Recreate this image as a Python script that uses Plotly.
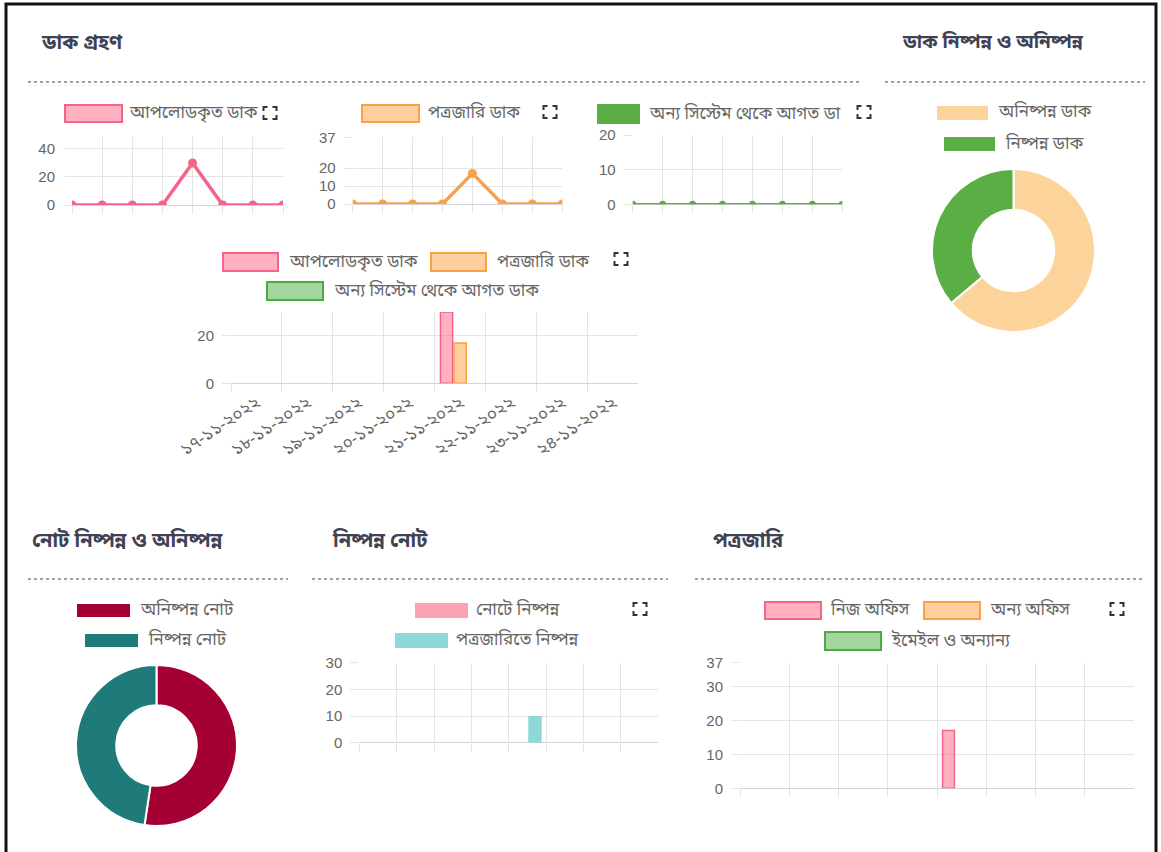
import plotly.graph_objects as go

# ---------------- data ----------------
dates = ["১৭-১১-২০২২", "১৮-১১-২০২২", "১৯-১১-২০২২", "২০-১১-২০২২",
         "২১-১১-২০২২", "২২-১১-২০২২", "২৩-১১-২০২২", "২৪-১১-২০২২"]

uploaded_dak = [0, 0, 0, 0, 30, 0, 0, 0]
issued_dak = [0, 0, 0, 0, 17, 0, 0, 0]
other_system_dak = [0, 0, 0, 0, 0, 0, 0, 0]

dak_status_labels = ["অনিষ্পন্ন ডাক", "নিষ্পন্ন ডাক"]
dak_status_values = [30, 17]

note_status_labels = ["অনিষ্পন্ন নোট", "নিষ্পন্ন নোট"]
note_status_values = [11, 10]

note_done_in_note = [0, 0, 0, 0, 0, 0, 0, 0]
note_done_in_potrojari = [0, 0, 0, 0, 10, 0, 0, 0]

potrojari_own_office = [0, 0, 0, 0, 17, 0, 0, 0]
potrojari_other_office = [0, 0, 0, 0, 0, 0, 0, 0]
potrojari_email_other = [0, 0, 0, 0, 0, 0, 0, 0]

# ---------------- styling ----------------
W, H = 1161, 852
BN_FONT = "Noto Sans Bengali, Noto Sans, DejaVu Sans, sans-serif"
NUM_FONT = "Liberation Sans, Arial, sans-serif"
TITLE_COLOR = "#3f4254"
TEXT_COLOR = "#666666"
GRID = "#e4e4e4"
LEGEND_SIZE = 17

PINK = "rgb(245,100,136)"
PINK_FILL = "rgba(255,99,132,0.5)"
ORANGE = "rgb(250,160,70)"
ORANGE_FILL = "rgba(255,159,64,0.5)"
GREEN = "rgb(90,174,68)"
GREEN_LINE = "rgb(76,170,70)"
GREEN_FILL = "rgba(90,180,80,0.55)"


def px(x):
    return x / W


def py(y):
    return 1 - y / H


fig = go.Figure()
shapes = []
annotations = []


def title(text, x, y, size=20):
    annotations.append(dict(text=f"<b>{text}</b>", x=px(x), y=py(y), xref="paper", yref="paper",
                            xanchor="left", yanchor="middle", showarrow=False,
                            font=dict(family=BN_FONT, size=size, color=TITLE_COLOR)))


def separator(x0, x1, y):
    shapes.append(dict(type="line", xref="paper", yref="paper", x0=px(x0), x1=px(x1),
                       y0=py(y), y1=py(y), line=dict(color="#444444", width=1, dash="dot")))
    shapes.append(dict(type="line", xref="paper", yref="paper", x0=px(x0), x1=px(x1),
                       y0=py(y + 3), y1=py(y + 3), line=dict(color="#ececec", width=1, dash="dot")))


def legend_item(x0, y0, w, h, fill, border, label, gap=7):
    shapes.append(dict(type="rect", xref="paper", yref="paper",
                       x0=px(x0), x1=px(x0 + w), y0=py(y0 + h), y1=py(y0),
                       fillcolor=fill, line=dict(color=border, width=2 if border else 0)))
    annotations.append(dict(text=label, x=px(x0 + w + gap), y=py(y0 + h / 2), xref="paper", yref="paper",
                            xanchor="left", yanchor="middle", showarrow=False,
                            font=dict(family=BN_FONT, size=LEGEND_SIZE, color=TEXT_COLOR)))


def expand_icon(cx, cy, w=13, h=12, a=4):
    x0, x1 = px(cx - w / 2), px(cx + w / 2)
    y0, y1 = py(cy - h / 2), py(cy + h / 2)
    ax, ay = a / W, a / H
    path = (f"M{x0},{y0 - ay} L{x0},{y0} L{x0 + ax},{y0} "
            f"M{x1 - ax},{y0} L{x1},{y0} L{x1},{y0 - ay} "
            f"M{x1},{y1 + ay} L{x1},{y1} L{x1 - ax},{y1} "
            f"M{x0 + ax},{y1} L{x0},{y1} L{x0},{y1 + ay}")
    shapes.append(dict(type="path", xref="paper", yref="paper", path=path,
                       line=dict(color="#333333", width=2)))


def xdom(x0, x1):
    return [px(x0), px(x1)]


def ydom(top, bottom):
    return [py(bottom), py(top)]


def x_axis(dom, anchor, showlabels=False, boundaries=False, rng=None):
    ax = dict(domain=dom, anchor=anchor, type="category", showgrid=True, gridcolor=GRID,
              gridwidth=1, ticks="outside", ticklen=8, tickcolor=GRID, showline=False,
              zeroline=False, showticklabels=showlabels, fixedrange=True, automargin=False,
              tickfont=dict(family=BN_FONT, size=17, color=TEXT_COLOR))
    if boundaries:
        ax["tickson"] = "boundaries"
    if rng is not None:
        ax["range"] = rng
    return ax


def y_axis(dom, anchor, rng, tickvals):
    return dict(domain=dom, anchor=anchor, range=rng, tickvals=tickvals, showgrid=True,
                gridcolor=GRID, ticks="outside", ticklen=8, tickcolor=GRID, zeroline=True,
                zerolinecolor="#d4d4d4", zerolinewidth=1, showline=False, fixedrange=True,
                automargin=False, ticklabelstandoff=5,
                tickfont=dict(family=NUM_FONT, size=15, color=TEXT_COLOR))


def bar_outline(vals, color):
    # zero-height bars get no outline so they stay invisible
    return dict(color=color, width=[1.5 if v else 0 for v in vals])


# ---------------- outer frame ----------------
shapes.append(dict(type="rect", xref="paper", yref="paper", x0=px(6), x1=px(1156), y0=py(880), y1=py(4),
                   line=dict(color="#111111", width=3), fillcolor="rgba(0,0,0,0)"))

# ---------------- headings ----------------
title("ডাক গ্রহণ", 39, 44)
title("ডাক নিষ্পন্ন ও অনিষ্পন্ন", 900, 44, size=19)
title("নোট নিষ্পন্ন ও অনিষ্পন্ন", 30, 541)
title("নিষ্পন্ন নোট", 330, 541)
title("পত্রজারি", 711, 541)

separator(28, 860, 82)
separator(885, 1145, 82)
separator(28, 288, 579)
separator(312, 668, 579)
separator(695, 1145, 579)

# ---------------- small line charts ----------------
line_specs = [
    ("x", "y", uploaded_dak, "আপলোডকৃত ডাক", PINK, 3.5, 9, (72, 283), (137, 205), [0, 48.5], [0, 20, 40]),
    ("x2", "y2", issued_dak, "পত্রজারি ডাক", ORANGE, 3.5, 9, (352.7, 562.3), (137.4, 204), [0, 37], [0, 10, 20, 37]),
    ("x3", "y3", other_system_dak, "অন্য সিস্টেম থেকে আগত ডাক", GREEN, 2.5, 7, (632.7, 842.3), (135, 204.3), [0, 20], [0, 10, 20]),
]
layout_axes = {}
for i, (xa, ya, vals, name, color, lw, ms, xr, yr, rng, tv) in enumerate(line_specs, start=1):
    fig.add_trace(go.Scatter(x=dates, y=vals, xaxis=xa, yaxis=ya, mode="lines+markers", name=name,
                             line=dict(color=color, width=lw), marker=dict(color=color, size=ms),
                             showlegend=False, hoverinfo="x+y"))
    sfx = "" if i == 1 else str(i)
    layout_axes[f"xaxis{sfx}"] = x_axis(xdom(*xr), ya, rng=[0, 7])
    layout_axes[f"yaxis{sfx}"] = y_axis(ydom(*yr), xa, rng, tv)

legend_item(65, 105, 57, 17, PINK_FILL, PINK, "আপলোডকৃত ডাক", gap=5)
expand_icon(270, 113)
legend_item(362, 105, 57, 17, ORANGE_FILL, ORANGE, "পত্রজারি ডাক", gap=7)
expand_icon(550, 112)
legend_item(597, 104, 43, 20, GREEN, None, "অন্য সিস্টেম থেকে আগত ডা", gap=7)
expand_icon(864, 112)

# ---------------- grouped bar chart (dak) ----------------
for vals, name, fill, border in [(uploaded_dak, "আপলোডকৃত ডাক", PINK_FILL, PINK),
                                 (issued_dak, "পত্রজারি ডাক", ORANGE_FILL, ORANGE),
                                 (other_system_dak, "অন্য সিস্টেম থেকে আগত ডাক", GREEN_FILL, GREEN_LINE)]:
    fig.add_trace(go.Bar(x=dates, y=vals, xaxis="x4", yaxis="y4", name=name, showlegend=False,
                         marker=dict(color=fill, line=bar_outline(vals, border))))
layout_axes["xaxis4"] = x_axis(xdom(231, 638.3), "y4", showlabels=True, boundaries=True)
layout_axes["xaxis4"]["tickangle"] = -34
layout_axes["xaxis4"]["ticklabelstandoff"] = 5
layout_axes["yaxis4"] = y_axis(ydom(312, 383.3), "x4", [0, 30], [0, 20])

legend_item(223, 253, 55, 18, PINK_FILL, PINK, "আপলোডকৃত ডাক", gap=9)
legend_item(431, 253, 55, 18, ORANGE_FILL, ORANGE, "পত্রজারি ডাক", gap=9)
expand_icon(621, 259)
legend_item(267, 282, 56, 18, GREEN_FILL, GREEN_LINE, "অন্য সিস্টেম থেকে আগত ডাক", gap=9)

# ---------------- dak donut ----------------
fig.add_trace(go.Pie(labels=dak_status_labels, values=dak_status_values, hole=0.5, sort=False,
                     direction="clockwise", rotation=0, textinfo="none", showlegend=False,
                     automargin=False,
                     marker=dict(colors=["rgb(252,211,154)", "rgb(90,174,68)"],
                                 line=dict(color="white", width=2)),
                     domain=dict(x=xdom(932, 1095), y=ydom(169, 332))))
legend_item(937, 106, 51, 14, "rgb(252,211,154)", None, dak_status_labels[0], gap=8)
legend_item(944, 137, 51, 14, "rgb(90,174,68)", None, dak_status_labels[1], gap=8)

# ---------------- note donut ----------------
fig.add_trace(go.Pie(labels=note_status_labels, values=note_status_values, hole=0.5, sort=False,
                     direction="clockwise", rotation=0, textinfo="none", showlegend=False,
                     automargin=False,
                     marker=dict(colors=["rgb(165,0,52)", "rgb(31,122,122)"],
                                 line=dict(color="white", width=2)),
                     domain=dict(x=xdom(76, 237), y=ydom(665, 826))))
legend_item(77, 604, 53, 13, "rgb(165,0,52)", None, note_status_labels[0], gap=8)
legend_item(85, 634, 53, 13, "rgb(31,122,122)", None, note_status_labels[1], gap=8)

# ---------------- completed notes bar chart ----------------
for vals, name, fill in [(note_done_in_note, "নোটে নিষ্পন্ন", "rgb(251,162,180)"),
                         (note_done_in_potrojari, "পত্রজারিতে নিষ্পন্ন", "rgb(142,216,216)")]:
    fig.add_trace(go.Bar(x=dates, y=vals, xaxis="x5", yaxis="y5", name=name, showlegend=False,
                         marker=dict(color=fill, line=dict(width=0))))
layout_axes["xaxis5"] = x_axis(xdom(359.3, 658.3), "y5", boundaries=True)
layout_axes["yaxis5"] = y_axis(ydom(662.7, 742.7), "x5", [0, 30], [0, 10, 20, 30])

legend_item(415, 603, 53, 15, "rgb(251,162,180)", None, "নোটে নিষ্পন্ন", gap=6)
expand_icon(640, 609)
legend_item(395, 633, 53, 15, "rgb(142,216,216)", None, "পত্রজারিতে নিষ্পন্ন", gap=6)

# ---------------- potrojari bar chart ----------------
for vals, name, fill, border in [(potrojari_own_office, "নিজ অফিস", PINK_FILL, PINK),
                                 (potrojari_other_office, "অন্য অফিস", ORANGE_FILL, ORANGE),
                                 (potrojari_email_other, "ইমেইল ও অন্যান্য", GREEN_FILL, GREEN_LINE)]:
    fig.add_trace(go.Bar(x=dates, y=vals, xaxis="x6", yaxis="y6", name=name, showlegend=False,
                         marker=dict(color=fill, line=bar_outline(vals, border))))
layout_axes["xaxis6"] = x_axis(xdom(740, 1134), "y6", boundaries=True)
layout_axes["yaxis6"] = y_axis(ydom(662.7, 788.3), "x6", [0, 37], [0, 10, 20, 30, 37])

legend_item(765, 602, 56, 17, PINK_FILL, PINK, "নিজ অফিস", gap=7)
legend_item(924, 602, 56, 17, ORANGE_FILL, ORANGE, "অন্য অফিস", gap=8)
expand_icon(1117, 609)
legend_item(825, 632, 56, 18, GREEN_FILL, GREEN_LINE, "ইমেইল ও অন্যান্য", gap=8)

fig.update_layout(
    width=W, height=H, autosize=False,
    margin=dict(l=0, r=0, t=0, b=0, pad=0, autoexpand=False),
    paper_bgcolor="white", plot_bgcolor="white",
    barmode="group", bargap=0.2, bargroupgap=0.1,
    shapes=shapes, annotations=annotations, showlegend=False,
    **layout_axes,
)

fig.write_html("out.html", config=dict(displayModeBar=False))
